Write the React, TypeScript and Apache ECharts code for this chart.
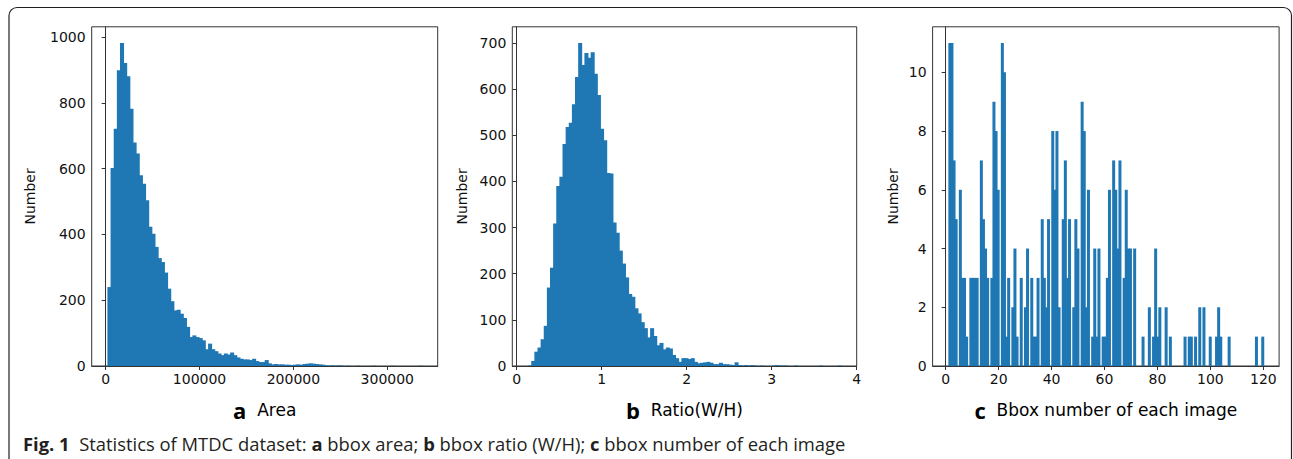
import React, { useEffect, useRef } from "react";
import * as echarts from "echarts";

// ---------- data ----------
// (a) bbox area histogram: 100 equal bins
const AREA_BIN_START = 1850;
const AREA_BIN_WIDTH = 3351;
const AREA_COUNTS = [
  240, 602, 721, 899, 982, 921, 881, 782, 679, 646,
  580, 554, 504, 423, 402, 362, 328, 316, 284, 235,
  197, 169, 171, 159, 146, 119, 88, 93, 88, 85,
  78, 51, 68, 51, 45, 38, 33, 38, 35, 41,
  33, 26, 22, 20, 20, 18, 22, 15, 12, 12,
  18, 8, 5, 6, 5, 5, 4, 4, 3, 4,
  5, 4, 6, 7, 8, 7, 6, 5, 4, 2,
  1, 2, 1, 2, 1, 0, 1, 0, 0, 1,
  0, 0, 0, 0, 1, 0, 0, 0, 0, 0,
  1, 0, 0, 0, 0, 0, 0, 0, 0, 1,
];
const AREA_X_TICKS = [0, 100000, 200000, 300000];
const AREA_Y_TICKS = [0, 200, 400, 600, 800, 1000];

// (b) bbox ratio (W/H) histogram: 100 equal bins
const RATIO_BIN_START = 0.134;
const RATIO_BIN_WIDTH = 0.0368;
const RATIO_COUNTS = [
  1, 11, 31, 40, 58, 87, 170, 213, 309, 390,
  410, 481, 518, 527, 567, 626, 700, 652, 678, 668,
  680, 633, 587, 514, 489, 418, 417, 311, 289, 250,
  222, 192, 156, 150, 125, 114, 95, 82, 62, 82,
  65, 45, 50, 36, 40, 38, 24, 17, 9, 17,
  17, 15, 17, 9, 6, 7, 8, 9, 7, 4,
  4, 7, 4, 4, 3, 2, 8, 2, 1, 2,
  1, 2, 1, 0, 1, 0, 0, 0, 1, 2,
  1, 1, 1, 0, 0, 1, 0, 0, 0, 0,
  0, 0, 0, 1, 0, 0, 0, 0, 0, 1,
];
const RATIO_X_TICKS = [0, 1, 2, 3, 4];
const RATIO_Y_TICKS = [0, 100, 200, 300, 400, 500, 600, 700];

// (c) number of images having 1..120 bboxes (index i => i+1 bboxes), binned into 150 bins
const IMAGES_PER_BBOX_NUMBER = [
  11, 11, 7, 5, 6, 3, 3, 1, 3, 3,
  3, 3, 7, 5, 4, 3, 3, 9, 8, 6,
  11, 10, 1, 3, 2, 4, 1, 3, 0, 2,
  4, 3, 1, 1, 3, 5, 3, 2, 5, 8,
  6, 8, 2, 5, 7, 3, 5, 2, 5, 4,
  9, 8, 2, 6, 1, 4, 1, 4, 1, 1,
  3, 6, 7, 6, 4, 7, 3, 6, 4, 4,
  4, 0, 0, 1, 0, 0, 2, 1, 4, 1,
  2, 0, 2, 0, 1, 0, 0, 0, 0, 1,
  0, 1, 1, 1, 0, 2, 2, 0, 0, 1,
  0, 1, 2, 1, 0, 0, 1, 0, 0, 0,
  0, 0, 0, 0, 0, 0, 1, 0, 0, 1,
];
const BBOX_BINS = 150;
const BBOX_X_TICKS = [0, 20, 40, 60, 80, 100, 120];
const BBOX_Y_TICKS = [0, 2, 4, 6, 8, 10];

// ---------- helpers ----------
const BAR = "#1f77b4";
const AX = "#333333";
const TXT = "#111111";

function fixedBins(counts: number[], start: number, width: number) {
  return counts.map((c, i) => [start + i * width, start + (i + 1) * width, c]);
}

function integerHistogram(counts: number[], nBins: number) {
  const lo = 1;
  const hi = counts.length;
  const bins = new Array(nBins).fill(0);
  counts.forEach((c, i) => {
    const v = i + 1;
    let b = Math.floor(((v - lo) * nBins) / (hi - lo));
    if (b >= nBins) b = nBins - 1;
    bins[b] += c;
  });
  const w = (hi - lo) / nBins;
  return bins.map((c, b) => [lo + b * w, lo + (b + 1) * w, c]);
}

const renderBar = (params: any, api: any) => {
  const v = api.value(2);
  if (!v) return null;
  const p0 = api.coord([api.value(0), v]);
  const p1 = api.coord([api.value(1), 0]);
  return {
    type: "rect",
    shape: { x: p0[0], y: p0[1], width: p1[0] - p0[0] + 0.9, height: p1[1] - p0[1] },
    style: { fill: BAR },
  };
};

const GRID_TOP = 26.8;
const GRID_H = 339.2;
const PANELS = [
  { left: 91.7, width: 346, xmin: -14900, xmax: 353700, ymax: 1031, xt: AREA_X_TICKS, yt: AREA_Y_TICKS },
  { left: 512.3, width: 344.4, xmin: -0.052, xmax: 4.0, ymax: 735, xt: RATIO_X_TICKS, yt: RATIO_Y_TICKS },
  { left: 932.6, width: 346.5, xmin: -4.95, xmax: 125.95, ymax: 11.55, xt: BBOX_X_TICKS, yt: BBOX_Y_TICKS },
];

const tickFont = { color: TXT, fontFamily: "DejaVu Sans", fontSize: 14 };

export default function App() {
  const ref = useRef<HTMLDivElement>(null);
  useEffect(() => {
    if (!ref.current) return;
    const chart = echarts.init(ref.current, undefined, { renderer: "svg" });
    const datasets = [
      fixedBins(AREA_COUNTS, AREA_BIN_START, AREA_BIN_WIDTH),
      fixedBins(RATIO_COUNTS, RATIO_BIN_START, RATIO_BIN_WIDTH),
      integerHistogram(IMAGES_PER_BBOX_NUMBER, BBOX_BINS),
    ];
    const titles = [
      ["a", "Area"],
      ["b", "Ratio(W/H)"],
      ["c", "Bbox number of each image"],
    ];
    const ylabelX = [30, 462, 893];

    const graphic: any[] = [
      {
        type: "rect",
        silent: true,
        shape: { x: 9, y: 7.5, width: 1282.5, height: 470, r: 8 },
        style: { fill: "none", stroke: "#231f20", lineWidth: 1.2 },
      },
      {
        type: "text",
        x: 23,
        y: 443,
        style: {
          text:
            "{b|Fig. 1}{n|  Statistics of MTDC dataset: }{b|a}{n| bbox area; }{b|b}{n| bbox ratio (W/H); }{b|c}{n| bbox number of each image}",
          rich: {
            b: { fontFamily: "Open Sans", fontWeight: "bold", fontSize: 18.4, fill: "#231f20" },
            n: { fontFamily: "Open Sans", fontSize: 18.4, fill: "#231f20" },
          },
          textAlign: "left",
          textVerticalAlign: "middle",
        },
      },
    ];
    PANELS.forEach((p, i) => {
      graphic.push({
        type: "text",
        x: ylabelX[i],
        y: GRID_TOP + GRID_H / 2,
        rotation: Math.PI / 2,
        style: {
          text: "Number",
          fontFamily: "DejaVu Sans",
          fontSize: 14,
          fill: TXT,
          textAlign: "center",
          textVerticalAlign: "middle",
        },
      });
      graphic.push({
        type: "text",
        x: p.left + p.width / 2,
        y: 410,
        style: {
          text: `{l|${titles[i][0]}}{t|  ${titles[i][1]}}`,
          rich: {
            l: { fontFamily: "Open Sans", fontWeight: "bold", fontSize: 22, fill: "#000" },
            t: { fontFamily: "DejaVu Sans", fontSize: 17, fill: "#000" },
          },
          textAlign: "center",
          textVerticalAlign: "middle",
        },
      });
    });

    chart.setOption({
      animation: false,
      backgroundColor: "#ffffff",
      grid: PANELS.map((p) => ({
        left: p.left,
        top: GRID_TOP,
        width: p.width,
        height: GRID_H,
        show: true,
        borderColor: AX,
        borderWidth: 1,
        backgroundColor: "transparent",
      })),
      xAxis: PANELS.map((p, i) => ({
        type: "value",
        gridIndex: i,
        min: p.xmin,
        max: p.xmax,
        z: 5,
        splitLine: { show: false },
        axisLine: { show: true, lineStyle: { color: AX, width: 1 } },
        axisTick: { show: true, length: 4, lineStyle: { color: AX }, customValues: p.xt },
        axisLabel: { ...tickFont, margin: 6, customValues: p.xt, formatter: (v: number) => String(v) },
      })),
      yAxis: PANELS.map((p, i) => ({
        type: "value",
        gridIndex: i,
        min: 0,
        max: p.ymax,
        z: 5,
        splitLine: { show: false },
        axisLine: { show: true, lineStyle: { color: AX, width: 1 } },
        axisTick: { show: true, length: 4, lineStyle: { color: AX }, customValues: p.yt },
        axisLabel: { ...tickFont, margin: 6, customValues: p.yt, formatter: (v: number) => String(v) },
      })),
      series: datasets.map((d, i) => ({
        type: "custom",
        xAxisIndex: i,
        yAxisIndex: i,
        renderItem: renderBar,
        encode: { x: [0, 1], y: 2 },
        data: d,
        silent: true,
      })),
      graphic,
    });
    return () => chart.dispose();
  }, []);
  return (
    <div
      ref={ref}
      style={{ position: "absolute", left: 0, top: 0, width: 1293, height: 459 }}
    />
  );
}
